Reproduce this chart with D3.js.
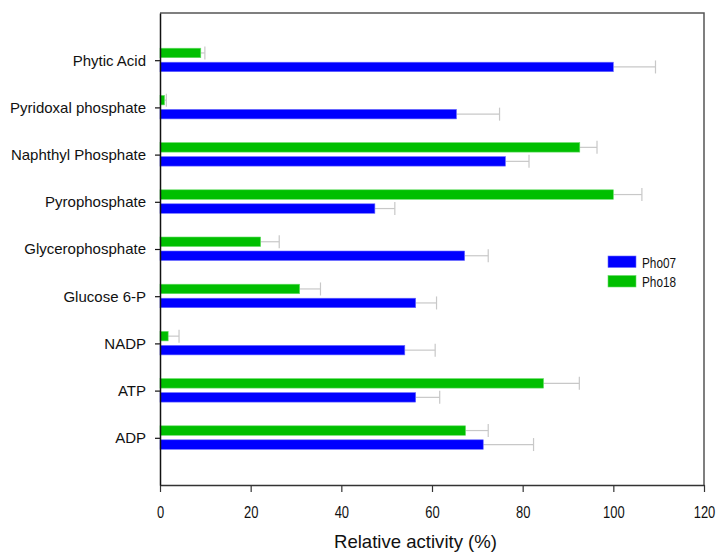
<!DOCTYPE html>
<html>
<head>
    <meta charset="utf-8">
    <title>relative activity</title>
    <script type="text/javascript" src="https://d3js.org/d3.v7.min.js"></script>
    <style>
        body{
            margin:0px;
            background-color:white;
        }
        svg{
            position:absolute;
            font-family:"Liberation Sans", Arial, sans-serif;
        }
    </style>
</head>
<body>
    <div id="chart"></div>
    <script type="text/javascript">
        // categories, bottom to top like the original plot
        var substrates = ["ADP","ATP","NADP","Glucose 6-P","Glycerophosphate","Pyrophosphate","Naphthyl Phosphate","Pyridoxal phosphate","Phytic Acid"]
        var pho07 = [71.3,56.4,54.0,56.4,67.2,47.4,76.2,65.4,100]
        var pho07Err = [11.1,5.3,6.7,4.6,5.2,4.4,5.2,9.5,9.3]
        var pho18 = [67.4,84.6,1.8,30.8,22.2,100,92.6,1.0,9.0]
        var pho18Err = [5.0,7.9,2.4,4.6,4.1,6.3,3.8,0.4,0.9]
        var xTicks = [0,20,40,60,80,100,120]
        var seriesNames = ["Pho07","Pho18"]

        var width = 718, height = 560
        // plot frame (note: "top" is taken by window.top, so use other names)
        var plotLeft = 160, plotRight = 704, plotTop = 13, plotBottom = 485

        var svg = d3.select("#chart").append("svg")
            .attr("width",width)
            .attr("height",height)

        var x = d3.scaleLinear().domain([0,120]).range([plotLeft,plotRight])
        // category i sits at position i+1 on a 0..10 scale
        var y = d3.scaleLinear().domain([0,10]).range([plotBottom,plotTop])

        var barH = 9.5
        var series = [
            {name:"Pho18",values:pho18,err:pho18Err,fill:"#00bf00",stroke:"#66dd66",offset:-12},
            {name:"Pho07",values:pho07,err:pho07Err,fill:"#0000ff",stroke:"#6a6aff",offset:2}
        ]

        series.forEach(function(s){
            var g = svg.append("g")
            // error bars first (positive side only)
            g.selectAll(".err").data(s.values).enter().append("line")
                .attr("class","err")
                .attr("x1",function(d){return x(d)})
                .attr("x2",function(d,i){return x(d+s.err[i])})
                .attr("y1",function(d,i){return y(i+1)+s.offset+barH/2})
                .attr("y2",function(d,i){return y(i+1)+s.offset+barH/2})
                .attr("stroke","#c8c8c8").attr("stroke-width",1.2)
            g.selectAll(".cap").data(s.values).enter().append("line")
                .attr("class","cap")
                .attr("x1",function(d,i){return x(d+s.err[i])})
                .attr("x2",function(d,i){return x(d+s.err[i])})
                .attr("y1",function(d,i){return y(i+1)+s.offset+barH/2-6.5})
                .attr("y2",function(d,i){return y(i+1)+s.offset+barH/2+6.5})
                .attr("stroke","#c8c8c8").attr("stroke-width",1.2)
            g.selectAll(".bar").data(s.values).enter().append("rect")
                .attr("class","bar")
                .attr("x",x(0))
                .attr("y",function(d,i){return y(i+1)+s.offset})
                .attr("width",function(d){return x(d)-x(0)})
                .attr("height",barH)
                .attr("fill",s.fill)
                .attr("stroke",s.stroke)
                .attr("stroke-width",0.6)
        })

        // frame
        svg.append("path")
            .attr("d","M"+plotLeft+","+plotTop+"H"+plotRight+"V"+plotBottom)
            .attr("fill","none").attr("stroke","#555").attr("stroke-width",1.5)

        // x axis
        var xAxis = svg.append("g").attr("transform","translate(0,"+plotBottom+")")
            .call(d3.axisBottom(x).tickValues(xTicks).tickSize(7).tickPadding(15).tickSizeOuter(0))
        xAxis.select(".domain").attr("stroke","#333").attr("stroke-width",1.5)
        xAxis.selectAll(".tick line").attr("stroke","#333").attr("stroke-width",1.2)
        xAxis.selectAll("text").attr("font-size",16).attr("fill","#111")
            .attr("font-family","'Liberation Sans', Arial, sans-serif")
            .attr("textLength",function(d){return String(d).length*7.2})
            .attr("lengthAdjust","spacingAndGlyphs")

        // y axis
        var yAxis = svg.append("g").attr("transform","translate("+plotLeft+",0)")
            .call(d3.axisLeft(y).tickValues(d3.range(1,10)).tickFormat(function(d){return substrates[d-1]})
                .tickSize(5).tickPadding(9).tickSizeOuter(0))
        yAxis.select(".domain").attr("stroke","#111").attr("stroke-width",1.5)
        yAxis.selectAll(".tick line").attr("stroke","#111").attr("stroke-width",1.2)
        yAxis.selectAll("text").attr("font-size",15).attr("fill","#111")
            .attr("font-family","'Liberation Sans', Arial, sans-serif")

        svg.append("text")
            .attr("x",334)
            .attr("y",548)
            .attr("font-size",18.5)
            .attr("fill","#111")
            .attr("textLength",163)
            .attr("lengthAdjust","spacingAndGlyphs")
            .text("Relative activity (%)")

        // legend
        var legend = svg.append("g").attr("transform","translate(608,256)")
        var legendColors = {"Pho07":["#0000ff","#6a6aff"],"Pho18":["#00bf00","#66dd66"]}
        seriesNames.forEach(function(n,i){
            legend.append("rect")
                .attr("x",0).attr("y",i*19.5)
                .attr("width",28).attr("height",11.5)
                .attr("fill",legendColors[n][0]).attr("stroke",legendColors[n][1]).attr("stroke-width",0.6)
            legend.append("text")
                .attr("x",34).attr("y",i*19.5+11.5)
                .attr("font-size",15).attr("fill","#111")
                .attr("textLength",34)
                .attr("lengthAdjust","spacingAndGlyphs")
                .text(n)
        })
    </script>
</body>
</html>
